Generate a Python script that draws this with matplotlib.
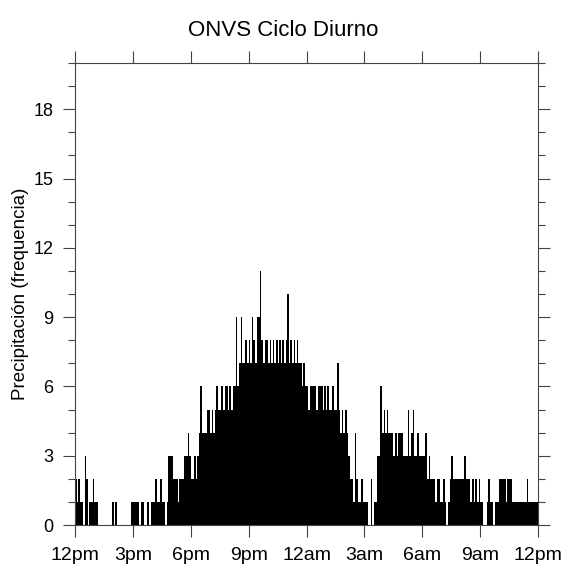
import matplotlib.pyplot as plt
import numpy as np

plt.rcParams['font.family'] = ['Liberation Sans', 'DejaVu Sans']

# conteos por intervalo de 5 minutos, desde 12pm (una fila por hora)
h00 = [2, 1, 2, 1, 1, 0, 3, 2, 0, 1, 1, 2]
h01 = [1, 1, 0, 0, 0, 0, 0, 0, 0, 0, 0, 1]
h02 = [0, 1, 0, 0, 0, 0, 0, 0, 0, 0, 0, 1]
h03 = [1, 1, 1, 1, 0, 1, 1, 0, 0, 1, 0, 1]
h04 = [1, 1, 2, 1, 1, 2, 1, 1, 0, 1, 3, 3]
h05 = [3, 2, 2, 2, 1, 2, 2, 2, 3, 3, 4, 3]
h06 = [2, 2, 3, 2, 3, 4, 6, 4, 4, 4, 5, 5]
h07 = [4, 5, 4, 5, 6, 5, 5, 6, 5, 6, 6, 5]
h08 = [6, 5, 6, 6, 9, 6, 7, 9, 7, 7, 8, 7]
h09 = [8, 7, 9, 8, 7, 9, 9, 11, 8, 7, 8, 8]
h10 = [7, 8, 7, 8, 7, 8, 7, 8, 7, 8, 7, 8]
h11 = [10, 7, 8, 7, 8, 7, 8, 7, 7, 6, 7, 6]
h12 = [6, 5, 6, 6, 6, 6, 5, 6, 6, 6, 5, 6]
h13 = [5, 6, 5, 5, 6, 5, 5, 7, 5, 4, 5, 4]
h14 = [5, 4, 3, 2, 2, 1, 4, 2, 1, 1, 2, 1]
h15 = [1, 1, 0, 0, 2, 0, 1, 1, 3, 3, 6, 4]
h16 = [5, 4, 5, 4, 4, 4, 3, 4, 3, 4, 4, 4]
h17 = [3, 3, 3, 5, 3, 4, 5, 3, 3, 4, 3, 3]
h18 = [3, 3, 4, 2, 3, 2, 2, 2, 1, 2, 2, 1]
h19 = [1, 2, 1, 0, 1, 2, 3, 2, 2, 2, 2, 2]
h20 = [2, 2, 3, 2, 2, 2, 1, 2, 1, 2, 1, 2]
h21 = [1, 1, 0, 0, 1, 2, 1, 1, 0, 1, 1, 1]
h22 = [2, 2, 2, 2, 1, 2, 2, 2, 1, 1, 1, 1]
h23 = [1, 1, 1, 1, 1, 2, 1, 1, 1, 1, 1, 1]

counts = np.array(h00 + h01 + h02 + h03 + h04 + h05 + h06 + h07 + h08 + h09 + h10 + h11 +
                  h12 + h13 + h14 + h15 + h16 + h17 + h18 + h19 + h20 + h21 + h22 + h23)

xtick_labels = ['12pm', '3pm', '6pm', '9pm', '12am', '3am', '6am', '9am', '12pm']
ytick_values = [0, 3, 6, 9, 12, 15, 18]

bin_w = 5 / 60.0
x = np.arange(len(counts)) * bin_w

fig = plt.figure(figsize=(5.66, 5.77), dpi=100)
fig.set_facecolor('white')
ax = fig.add_axes([75 / 566, 52 / 577, 463 / 566, 462 / 577])

ax.bar(x, counts, width=bin_w, align='edge', color='black', linewidth=0)

ax.set_xlim(0, 24)
ax.set_ylim(0, 20)
ax.set_xticks(np.arange(0, 25, 3))
ax.set_xticklabels(xtick_labels)
ax.set_yticks(ytick_values)
ax.set_yticks(np.arange(0, 21, 1), minor=True)

ax.tick_params(which='both', direction='out', top=True, right=True, color='#444444', width=0.8)
ax.tick_params(which='major', length=8.5, pad=7)
ax.tick_params(which='minor', length=5)
ax.tick_params(axis='x', which='minor', bottom=False, top=False)
ax.tick_params(axis='x', labelsize=14)
ax.tick_params(axis='y', labelsize=13)
for sp in ax.spines.values():
    sp.set_color('#444444')
    sp.set_linewidth(0.8)

ax.set_ylabel('Precipitación (frequencia)', fontsize=13.5, labelpad=3)
fig.text(0.5, 1 - 30 / 577, 'ONVS Ciclo Diurno', ha='center', va='center', fontsize=16)

fig.savefig('out.png', dpi=100)
